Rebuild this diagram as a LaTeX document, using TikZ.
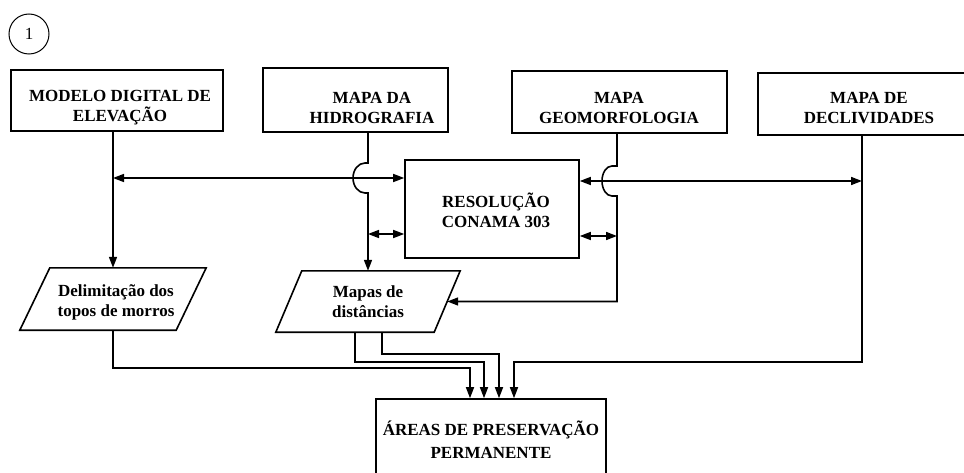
\documentclass[tikz,border=0pt]{standalone}
\usepackage{fontspec}
\setmainfont{Liberation Serif}
\usetikzlibrary{arrows.meta,calc}
\begin{document}
\begin{tikzpicture}[x=1pt,y=-1pt,
  box/.style={draw, line width=1.6pt, inner sep=0pt},
  lbl/.style={font=\fontsize{17}{20}\selectfont\bfseries, align=center, inner sep=0pt},
  ln/.style={line width=1.6pt},
  arr/.style={ln, -{Triangle[length=11pt,width=8pt]}},
  darr/.style={ln, {Triangle[length=11pt,width=8pt]}-{Triangle[length=11pt,width=8pt]}},
]
\useasboundingbox (0,0) rectangle (964,473);
\clip (0,0) rectangle (964,473);

% circle number
\node[draw, circle, line width=1pt, minimum size=40pt, inner sep=0pt, font=\fontsize{17}{20}\selectfont] (num) at (29,34) {1};

% boxes
\node[box, minimum width=212pt, minimum height=61pt] (mde) at (117,100.5) {};
\node[lbl] (mdeT) at (120,108) {MODELO DIGITAL DE\\ELEVAÇÃO};
\node[box, minimum width=185pt, minimum height=64pt] (hid) at (355.5,100) {};
\node[lbl] (hidT) at (372,108) {MAPA DA\\HIDROGRAFIA};
\node[box, minimum width=215pt, minimum height=62pt] (geo) at (619.5,102) {};
\node[lbl] (geoT) at (619,108) {MAPA\\GEOMORFOLOGIA};
\node[box, minimum width=222pt, minimum height=62pt] (dec) at (869,104) {};
\node[lbl] (decT) at (869,108) {MAPA DE\\DECLIVIDADES};
\node[box, minimum width=174pt, minimum height=98pt] (con) at (492,209) {};
\node[lbl] (conT) at (496,210) {RESOLUÇÃO\\CONAMA 303};
\node[box, minimum width=230pt, minimum height=82pt] (apa) at (491,440) {};
\node[lbl, font=\fontsize{17}{23}\selectfont\bfseries] (apaT) at (491,440) {ÁREAS DE PRESERVAÇÃO\\PERMANENTE};

% parallelograms
\node[minimum width=156pt, minimum height=62pt, inner sep=0pt] (d1) at (113,299) {};
\draw[box] ($(d1.north west)+(15,0)$) -- ($(d1.north east)+(15,0)$) -- ($(d1.south east)+(-15,0)$) -- ($(d1.south west)+(-15,0)$) -- cycle;
\node[lbl] (d1T) at (116,302) {Delimitação dos\\topos de morros};
\node[minimum width=158pt, minimum height=61pt, inner sep=0pt] (d2) at (368,301.5) {};
\draw[box] ($(d2.north west)+(13,0)$) -- ($(d2.north east)+(13,0)$) -- ($(d2.south east)+(-13,0)$) -- ($(d2.south west)+(-13,0)$) -- cycle;
\node[lbl] (d2T) at (368,302) {Mapas de\\distâncias};

% helper coordinates
\coordinate (gx) at (617,0);
\coordinate (dx) at (862,0);
\coordinate (yA) at (0,178);
\coordinate (yB) at (0,181);
\coordinate (sL) at (0,234);
\coordinate (sR) at (0,236);
\coordinate (h1) at (0,368);
\coordinate (h2) at (0,362);
\coordinate (h3) at (0,354);
\coordinate (h4) at (0,362);
\coordinate (x1) at (470,0);
\coordinate (x2) at (484,0);
\coordinate (x3) at (499,0);
\coordinate (x4) at (514,0);
\coordinate (x2a) at (355,0);
\coordinate (x3a) at (382,0);

% connectors
\draw[arr] (d1.north |- mde.south) -- (d1.north);
\draw[darr] (d1.north |- yA) -- (con.west |- yA);
\draw[arr] (d2.north |- hid.south) -- (368,163) -- (365,163)
  arc[start angle=90, end angle=270, x radius=12pt, y radius=15pt] -- (368,193) -- (d2.north);
\draw[darr] (con.east |- yB) -- (dx |- yB);
\draw[arr] (gx |- geo.south) -- (617,166) -- (612,166)
  arc[start angle=90, end angle=270, x radius=10pt, y radius=15pt] -- (617,196) -- (gx |- d2.east) -- (d2.east);
\draw[darr] (d2.north |- sL) -- (con.west |- sL);
\draw[darr] (con.east |- sR) -- (gx |- sR);
\draw[arr] (dx |- dec.south) -- (dx |- h4) -- (x4 |- h4) -- (x4 |- apa.north);
\draw[arr] (d1.south) -- (d1.south |- h1) -- (x1 |- h1) -- (x1 |- apa.north);
\draw[arr] (x2a |- d2.south) -- (x2a |- h2) -- (x2 |- h2) -- (x2 |- apa.north);
\draw[arr] (x3a |- d2.south) -- (x3a |- h3) -- (x3 |- h3) -- (x3 |- apa.north);
\end{tikzpicture}
\end{document}
